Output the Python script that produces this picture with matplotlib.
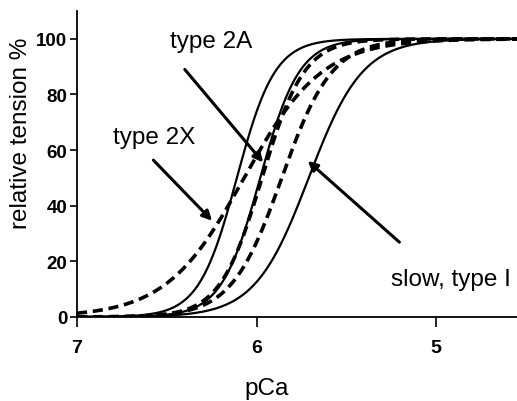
import numpy as np
import matplotlib
matplotlib.use('Agg')
from matplotlib import pyplot as plt

plt.rcParams['font.family'] = ['Liberation Sans', 'DejaVu Sans']

# Hill fits: midpoint pCa50 and Hill coefficient
curve_pca50 = [6.11, 6.07, 5.98, 5.97, 5.86, 5.71]
curve_hill_n = [4.1, 2.0, 4.0, 3.7, 3.1, 2.9]
curve_dashed = [False, True, False, True, True, False]

x_ticks = [7, 6, 5]
y_ticks = [0, 20, 40, 60, 80, 100]

# annotation texts, text anchor (pCa, %), arrow start and arrow head
labels = ['type 2A', 'type 2X', 'slow, type I']
label_pos = [(6.48, 96.9), (6.80, 62.4), (5.25, 11.5)]
arrow_start = [(6.40, 89.0), (6.575, 56.4), (5.205, 26.9)]
arrow_head = [(5.964, 55.6), (6.248, 34.6), (5.715, 56.1)]

fig = plt.figure(figsize=(5.17, 4.02), dpi=100)
ax = fig.add_axes([0.149, 0.209, 0.851, 0.761])

pca = np.linspace(7.0, 4.5, 400)
for p50, n, dashed in zip(curve_pca50, curve_hill_n, curve_dashed):
    tension = 100.0 / (1.0 + 10 ** (n * (pca - p50)))
    if dashed:
        ax.plot(pca, tension, color='k', lw=2.6, ls=(0, (2.8, 1.6)))
    else:
        ax.plot(pca, tension, color='k', lw=1.6)

for text, pos, start, head in zip(labels, label_pos, arrow_start, arrow_head):
    ax.text(pos[0], pos[1], text, fontsize=17.5, ha='left', va='baseline')
    ax.annotate('', xy=head, xytext=start,
                arrowprops=dict(arrowstyle='-|>', color='k', lw=2.2,
                                mutation_scale=14, shrinkA=0, shrinkB=0))

ax.set_xlim(7, 4.55)
ax.set_ylim(0, 110)
ax.set_xticks(x_ticks)
ax.set_yticks(y_ticks)
ax.set_xticklabels([str(t) for t in x_ticks], fontweight='bold', fontsize=14)
ax.set_yticklabels([str(t) for t in y_ticks], fontweight='bold', fontsize=13.5)
ax.tick_params(axis='x', direction='out', length=7, width=1.2, pad=9)
ax.tick_params(axis='y', direction='out', length=5, width=1.2, pad=2)

ax.spines['top'].set_visible(False)
ax.spines['right'].set_visible(False)
ax.spines['left'].set_linewidth(1.3)
ax.spines['bottom'].set_linewidth(1.3)

fig.text(21 / 517, 1 - 133 / 402, 'relative tension %', rotation=90,
         ha='center', va='center', fontsize=17.5)
fig.text(267 / 517, 1 - 395 / 402, 'pCa', ha='center', va='baseline', fontsize=17.5)

fig.savefig('out.png', dpi=100)
